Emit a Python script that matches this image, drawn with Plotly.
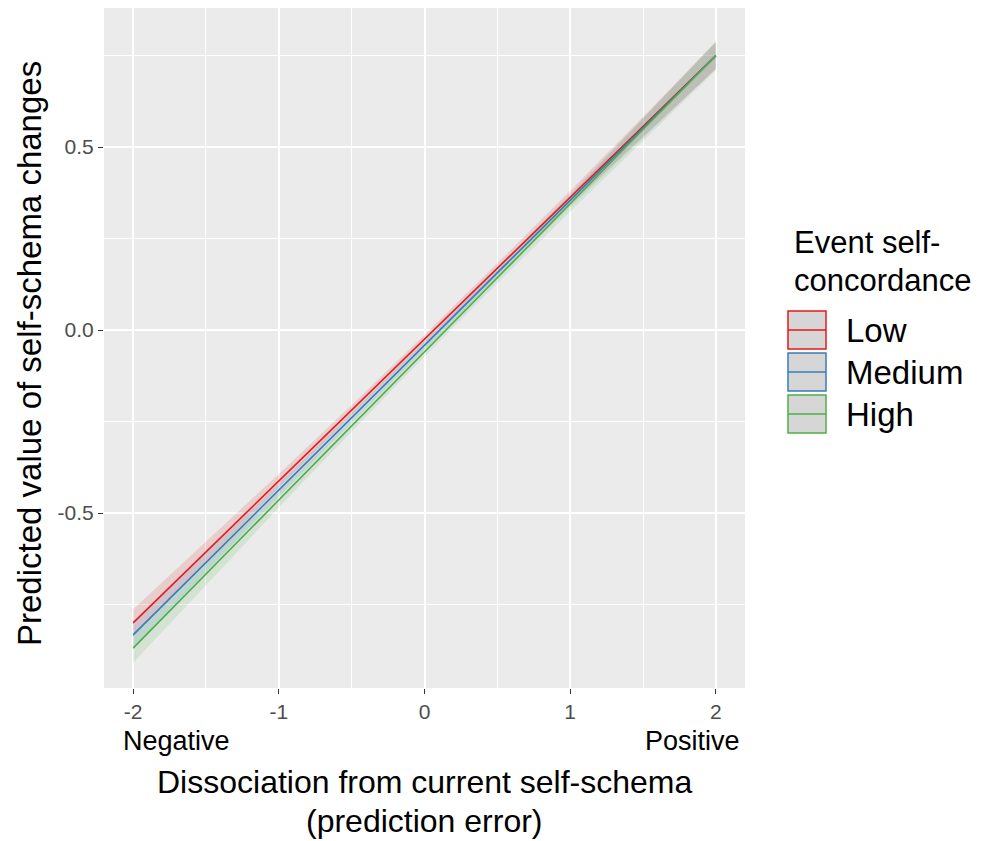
import plotly.graph_objects as go

# ---- data ----
x_vals = [-2, -1.5, -1, -0.5, 0, 0.5, 1, 1.5, 2]
groups = ["Low", "Medium", "High"]
pred_low = [-0.800, -0.606, -0.412, -0.219, -0.025, 0.169, 0.362, 0.556, 0.750]
pred_med = [-0.833, -0.635, -0.437, -0.239, -0.042, 0.156, 0.354, 0.552, 0.750]
pred_high = [-0.869, -0.667, -0.464, -0.262, -0.059, 0.143, 0.345, 0.548, 0.750]
se_low = [0.037, 0.027, 0.019, 0.014, 0.012, 0.014, 0.019, 0.027, 0.037]
se_med = [0.036, 0.026, 0.018, 0.013, 0.011, 0.013, 0.018, 0.026, 0.036]
se_high = [0.040, 0.030, 0.021, 0.015, 0.013, 0.015, 0.021, 0.030, 0.040]
x_ticks = [-2, -1, 0, 1, 2]
x_tick_text = ["-2", "-1", "0", "1", "2"]
y_ticks = [-0.5, 0.0, 0.5]
y_tick_text = ["-0.5", "0.0", "0.5"]
colors = ["#E41A1C", "#377EB8", "#4DAF4A"]
fills = ["rgba(228,26,28,0.14)", "rgba(55,126,184,0.14)", "rgba(77,175,74,0.14)"]

preds = [pred_low, pred_med, pred_high]
ses = [se_low, se_med, se_high]

# page has an 8px body margin: work in figure pixels = page pixels - 8
OFF = 8
W, H = 985 - OFF, 841 - OFF
L, R, T, B = 104 - OFF, 745 - OFF, 8 - OFF, 688 - OFF
FONT = "Liberation Sans, Arial, sans-serif"


def px(xp):
    return (xp - OFF - L) / (R - L)


def py(yp):
    return (B - (yp - OFF)) / (B - T)


fig = go.Figure()
for name, p, s, c, f in zip(groups, preds, ses, colors, fills):
    upper = [a + b for a, b in zip(p, s)]
    lower = [a - b for a, b in zip(p, s)]
    fig.add_trace(go.Scatter(x=x_vals + x_vals[::-1], y=upper + lower[::-1],
                             fill="toself", fillcolor=f, line=dict(width=0),
                             mode="lines", hoverinfo="skip", showlegend=False))
for name, p, c in zip(groups, preds, colors):
    fig.add_trace(go.Scatter(x=x_vals, y=p, mode="lines", name=name,
                             line=dict(color=c, width=1.6), showlegend=False))

axis_common = dict(showline=False, zeroline=False, ticks="outside", ticklen=5,
                   tickwidth=1.2, tickcolor="#333333", gridcolor="white",
                   gridwidth=2, tickfont=dict(family=FONT, size=21, color="#4D4D4D"),
                   minor=dict(showgrid=True, gridcolor="white", gridwidth=1, ticks=""))
fig.update_xaxes(range=[-2.2, 2.2], tickvals=x_ticks, ticktext=x_tick_text, **axis_common)
fig.update_yaxes(range=[-0.978, 0.88], tickvals=y_ticks, ticktext=y_tick_text, **axis_common)
fig.update_xaxes(minor_dtick=0.5, minor_tick0=0)
fig.update_yaxes(minor_dtick=0.25, minor_tick0=0)

annotations = [
    dict(text="Negative", x=px(176), y=py(741), font=dict(size=27)),
    dict(text="Positive", x=px(692), y=py(741), font=dict(size=27)),
    dict(text="Dissociation from current self-schema", x=px(424), y=py(782), font=dict(size=32)),
    dict(text="(prediction error)", x=px(424), y=py(821), font=dict(size=32)),
    dict(text="Predicted value of self-schema changes", x=px(29), y=py(354),
         textangle=-90, font=dict(size=33)),
    dict(text="Event self-", x=px(792), y=py(242), xanchor="left", font=dict(size=31)),
    dict(text="concordance", x=px(792), y=py(280), xanchor="left", font=dict(size=31)),
]
leg_y = [330, 372, 414]
for g, yy in zip(groups, leg_y):
    annotations.append(dict(text=g, x=px(844), y=py(yy), xanchor="left", font=dict(size=33)))

for a in annotations:
    a.setdefault("xanchor", "center")
    a.update(xref="paper", yref="paper", yanchor="middle", showarrow=False)
    a["font"].update(family=FONT, color="black")

shapes = []
for c, yy in zip(colors, leg_y):
    shapes.append(dict(type="rect", xref="paper", yref="paper",
                       x0=px(788), x1=px(826), y0=py(yy - 19), y1=py(yy + 19),
                       fillcolor="#D6D6D6", line=dict(color=c, width=1.5)))
    shapes.append(dict(type="line", xref="paper", yref="paper",
                       x0=px(788), x1=px(826), y0=py(yy), y1=py(yy),
                       line=dict(color=c, width=1.5)))

fig.update_layout(width=W, height=H, margin=dict(l=L, r=W - R, t=T, b=H - B),
                  paper_bgcolor="white", plot_bgcolor="#EBEBEB",
                  annotations=annotations, shapes=shapes, showlegend=False)
fig.write_html("out.html")
